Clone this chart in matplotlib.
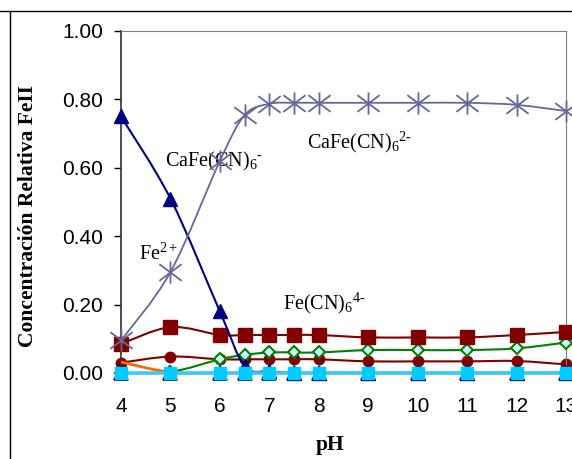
import matplotlib
matplotlib.use("Agg")
import matplotlib.pyplot as plt
import numpy as np
from matplotlib.path import Path
from matplotlib.patches import PathPatch
from matplotlib.lines import Line2D

# pH values and relative FeII concentration of each species
ph = [4, 5, 6, 6.5, 7, 7.5, 8, 9, 10, 11, 12, 13]
fe2 = [0.75, 0.51, 0.18, 0.02, 0.005, 0, 0, 0, 0, 0, 0, 0]
cafe_cn6 = [0.095, 0.295, 0.62, 0.754, 0.787, 0.79, 0.79, 0.79, 0.79, 0.79, 0.784, 0.766]
fe_cn6 = [0.085, 0.134, 0.111, 0.111, 0.111, 0.111, 0.111, 0.104, 0.104, 0.104, 0.111, 0.12]
red_circ = [0.030, 0.048, 0.040, 0.040, 0.040, 0.040, 0.040, 0.034, 0.034, 0.034, 0.035, 0.025]
green_dia = [0.0, 0.003, 0.040, 0.053, 0.060, 0.060, 0.060, 0.067, 0.067, 0.067, 0.072, 0.089]
orange = [0.032, 0.002, 0, 0, 0, 0, 0, 0, 0, 0, 0, 0]
yellow_tri = [0] * 12
cyan_sq = [0] * 12

plt.rcParams['font.family'] = ['Liberation Sans', 'DejaVu Sans']
plt.rcParams['mathtext.fontset'] = 'custom'
plt.rcParams['mathtext.rm'] = 'Liberation Serif'
plt.rcParams['mathtext.it'] = 'Liberation Serif:italic'
plt.rcParams['mathtext.bf'] = 'Liberation Serif:bold'


def smooth_path(x, y):
    # Catmull-Rom style smoothed line as cubic Bezier segments
    pts = np.column_stack([x, y]).astype(float)
    verts = [pts[0]]
    codes = [Path.MOVETO]
    n = len(pts)
    for i in range(n - 1):
        p0 = pts[i - 1] if i > 0 else pts[i]
        p1 = pts[i]
        p2 = pts[i + 1]
        p3 = pts[i + 2] if i + 2 < n else pts[i + 1]
        c1 = p1 + (p2 - p0) / 6
        c2 = p2 - (p3 - p1) / 6
        verts += [c1, c2, p2]
        codes += [Path.CURVE4] * 3
    return Path(verts, codes)


def series(ax, y, color, lw, z, **mk):
    patch = PathPatch(smooth_path(ph, y), fill=False, edgecolor=color, lw=lw,
                      zorder=z, clip_on=False)
    ax.add_patch(patch)
    if mk:
        ax.plot(ph, y, linestyle='none', zorder=z + 0.1, clip_on=False, **mk)


star = Path([(-1, -0.75), (1, 0.75), (-1, 0.75), (1, -0.75), (0, -1), (0, 1)],
            [Path.MOVETO, Path.LINETO] * 3)

fig = plt.figure(figsize=(5.72, 4.59), dpi=100)
ax = fig.add_axes([0.2115, 0.1874, 0.778, 0.7451])

series(ax, red_circ, '#800000', 1.5, 2, marker='o', ms=7.5, mfc='#800000', mec='#800000')
series(ax, green_dia, '#008000', 1.5, 3, marker='D', ms=6.5, mfc='#ccffff', mec='#008000', mew=1.5)
series(ax, orange, '#ff6600', 2, 3.5)
series(ax, fe_cn6, '#800000', 1.5, 4, marker='s', ms=10, mfc='#800000', mec='#800000')
series(ax, fe2, '#000080', 1.5, 5, marker='^', ms=10, mfc='#000080', mec='#000080')
series(ax, cafe_cn6, '#666699', 1.3, 6, marker=star, ms=16, mec='#666699', mew=1.3)
series(ax, yellow_tri, '#000080', 1, 7, marker='^', ms=10, mfc='#ffff99', mec='#000080', mew=1.2)
series(ax, cyan_sq, '#33ccff', 2.5, 8, marker='s', ms=9, mfc='#00ccff', mec='#00ccff')

ax.set_xlim(4, 13)
ax.set_ylim(0, 1)
ax.set_xticks(range(4, 14))
ax.set_yticks(np.arange(0, 1.01, 0.2))
ax.yaxis.set_major_formatter(matplotlib.ticker.FormatStrFormatter('%.2f'))
ax.tick_params(axis='x', length=0, pad=17, labelsize=15)
ax.tick_params(axis='y', length=5, width=1, pad=8, labelsize=15, direction='out')

for side in ['top', 'right', 'bottom']:
    ax.spines[side].set_color('#808080')
ax.spines['left'].set_color('#303030')
ax.spines['left'].set_linewidth(1.2)

serif = ['Liberation Serif', 'DejaVu Serif']
ax.set_ylabel('Concentración Relativa FeII', family=serif, fontsize=15.5, fontweight='bold')
ax.yaxis.set_label_coords(-0.187, 0.459)
ax.set_xlabel('pH', family=serif, fontsize=15.5, fontweight='bold')
ax.xaxis.set_label_coords(0.47, -0.181)

lab = dict(family=serif, fontsize=14.5, va='baseline')
ax.text(7.77, 0.658, r'CaFe(CN)$_6$$^{2\text{-}}$', **lab)
ax.text(4.89, 0.605, r'CaFe(CN)$_6$$^{\text{-}}$', **lab)
ax.text(4.36, 0.33, r'Fe$^{2+}$', **lab)
ax.text(7.28, 0.187, r'Fe(CN)$_6$$^{4\text{-}}$', **lab)

# chart area frame
fig.add_artist(Line2D([0, 1], [1 - 11 / 459] * 2, color='black', lw=1))
fig.add_artist(Line2D([10 / 572] * 2, [0, 1 - 11 / 459], color='black', lw=1))

fig.savefig('out.png', dpi=100)
